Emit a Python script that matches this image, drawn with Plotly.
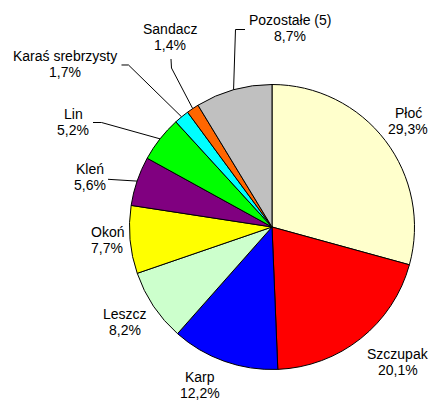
import math
import plotly.graph_objects as go

# ---- data ----
labels = ["Płoć", "Szczupak", "Karp", "Leszcz", "Okoń", "Kleń", "Lin",
          "Karaś srebrzysty", "Sandacz", "Pozostałe (5)"]
values = [29.3, 20.1, 12.2, 8.2, 7.7, 5.6, 5.2, 1.7, 1.4, 8.7]
pct_text = ["29,3%", "20,1%", "12,2%", "8,2%", "7,7%", "5,6%", "5,2%",
            "1,7%", "1,4%", "8,7%"]
colors = ["#FFFFCC", "#FF0000", "#0000FF", "#CCFFCC", "#FFFF00", "#800080",
          "#00FF00", "#00FFFF", "#FF6600", "#C0C0C0"]

# ---- layout (pixels) ----
W, H = 431, 401
CX, CY, R = 272, 227, 142.5
LINE_GAP = 16.5
label_pos = {  # label block centres
    "Płoć": (408, 121), "Szczupak": (398, 362), "Karp": (200, 385),
    "Leszcz": (125, 322), "Okoń": (107, 240), "Kleń": (90, 177),
    "Lin": (73, 122), "Karaś srebrzysty": (65, 64), "Sandacz": (170, 37),
    "Pozostałe (5)": (290, 28),
}
# elbow points of leader lines (from label side towards pie)
leaders = {
    "Pozostałe (5)": [(245, 29.5), (235.5, 29.5)],
    "Sandacz": [(171, 59), (171.5, 68)],
    "Karaś srebrzysty": [(121.5, 65), (128.5, 65)],
    "Lin": [(93, 122.5), (101.5, 122.5)],
    "Kleń": [(108, 179.3)],
}


def px(x):
    return x / W


def py(y):
    return 1 - y / H


fig = go.Figure(go.Pie(
    labels=labels, values=values, sort=False, direction="clockwise",
    rotation=0, textinfo="none", hoverinfo="label+percent",
    marker=dict(colors=colors, line=dict(color="black", width=1)),
    domain=dict(x=[px(CX - R), px(CX + R)], y=[py(CY + R), py(CY - R)]),
    showlegend=False,
))

font = dict(family="Liberation Sans, Arial", size=14, color="black")
total = sum(values)
cum = 0.0
shapes = []
annotations = []
for lab, v, t in zip(labels, values, pct_text):
    mid = (cum + v / 2) / total * 2 * math.pi
    cum += v
    ex = CX + R * math.sin(mid)
    ey = CY - R * math.cos(mid)
    lx, ly = label_pos[lab]
    for txt, dy in ((lab, -LINE_GAP / 2), (t, LINE_GAP / 2)):
        annotations.append(dict(
            x=px(lx), y=py(ly + dy), xref="paper", yref="paper",
            showarrow=False, text=txt, xanchor="center", yanchor="middle",
            align="center", font=font))
    if lab in leaders:
        pts = leaders[lab] + [(ex, ey)]
        path = "M " + " L ".join(f"{px(a):.5f},{py(b):.5f}" for a, b in pts)
        shapes.append(dict(type="path", path=path, xref="paper", yref="paper",
                           line=dict(color="black", width=1)))

fig.update_layout(
    width=W, height=H, margin=dict(l=0, r=0, t=0, b=0),
    paper_bgcolor="white", plot_bgcolor="white",
    shapes=shapes, annotations=annotations,
)
fig.write_html("out.html", config={"displayModeBar": False},
               post_script="document.body.style.margin='0px';"
                           "document.body.style.padding='0px';")
